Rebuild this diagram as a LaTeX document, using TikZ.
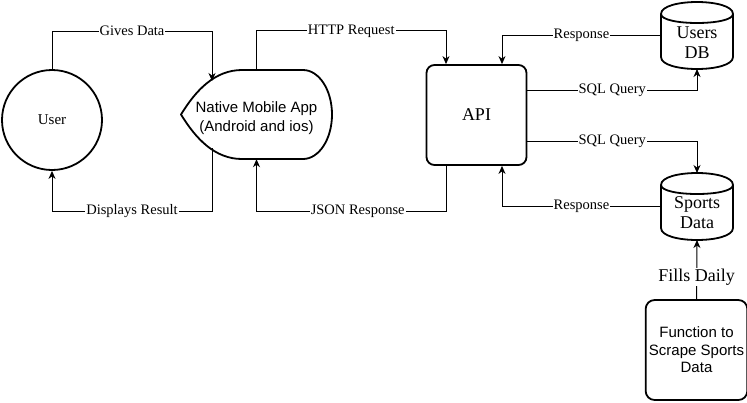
\documentclass[tikz,border=0pt]{standalone}
\usepackage{fontspec}
\setmainfont{Liberation Serif}
\newfontfamily\arialfont{Liberation Sans}
\usetikzlibrary{arrows.meta,calc}

\newcommand\dbshape[2]{%
  \draw[shapeline] ($(#1.north west)+(0,#2)$) .. controls ($(#1.north west)+(0,-#2/3)$) and ($(#1.north east)+(0,-#2/3)$) .. ($(#1.north east)+(0,#2)$)
    -- ($(#1.south east)+(0,-#2)$) .. controls ($(#1.south east)+(0,#2/3)$) and ($(#1.south west)+(0,#2/3)$) .. ($(#1.south west)+(0,-#2)$) -- cycle;
  \draw[shapeline] ($(#1.north west)+(0,#2)$) .. controls ($(#1.north west)+(0,2*#2)$) and ($(#1.north east)+(0,2*#2)$) .. ($(#1.north east)+(0,#2)$);
}

\begin{document}
\begin{tikzpicture}[x=1pt,y=-1pt,
  shapeline/.style={line width=1.8pt, line join=round},
  conn/.style={line width=1pt, -{Stealth[length=8pt,width=7pt,inset=2.5pt]}},
  lbl/.style={fill=white, inner sep=1pt, font=\fontsize{14.5}{16}\selectfont},
  bigserif/.style={font=\fontsize{18}{20}\selectfont, align=center},
  dbnode/.style={draw=none, minimum width=72pt, minimum height=67pt, inner sep=0pt, outer sep=0pt},
]
\fill[white] (0,0) rectangle (747,402);
\useasboundingbox (0,0) rectangle (747,402);

% User
\node[circle, draw, shapeline, minimum size=100pt, inner sep=0pt, font=\fontsize{15}{17}\selectfont] (user) at (52,120) {User};

% Native mobile app (display shape)
\node[draw=none, minimum width=151pt, minimum height=89pt] (app) at (256.5,114.5) {};
\draw[shapeline] (181,114.5) .. controls (196,90) and (215,70) .. (242,70) -- (303,70)
  arc[start angle=-90, end angle=90, x radius=29, y radius=44.5]
  -- (242,159) .. controls (215,159) and (196,139) .. (181,114.5) -- cycle;
\node[align=center, inner sep=0pt, font=\arialfont\fontsize{15}{19}\selectfont] (appt) at (256.5,118) {Native Mobile App\\(Android and ios)};
\coordinate (appin) at (212,81);
\coordinate (appout) at (212,148);

% API
\node[draw, shapeline, rounded corners=8pt, minimum width=100pt, minimum height=100pt, bigserif] (api) at (476.5,115) {API};

% Databases
\node[dbnode] (udb) at (697,35.5) {};
\dbshape{udb}{12}
\node[bigserif, inner sep=0pt] (udbt) at (697,43) {Users\\DB};

\node[dbnode] (sdb) at (697,206.5) {};
\dbshape{sdb}{12}
\node[bigserif, inner sep=0pt] (sdbt) at (697,212.5) {Sports\\Data};

% Function box
\node[draw, shapeline, rounded corners=9pt, minimum width=100pt, minimum height=100pt, align=center, font=\arialfont\fontsize{15}{17.5}\selectfont] (func) at (696.5,350) {Function to\\Scrape Sports\\Data};

% Connectors
\draw[conn] (user.north) -- ++(0,-38) -| node[lbl,pos=.25]{Gives Data} (appin);
\draw[conn] (appout) -- ++(0,63) -| node[lbl,pos=.25]{Displays Result} (user.south);
\draw[conn] (app.north) -- ++(0,-39) -| node[lbl,pos=.25]{HTTP Request} ([xshift=-30.5pt]api.north);
\draw[conn] ([xshift=-30.5pt]api.south) -- ++(0,45.1) -| node[lbl,pos=.233]{JSON Response} (app.south);
\draw[conn] (udb.west) -| node[lbl,pos=.25]{Response} ([xshift=25.5pt]api.north);
\draw[conn] ([yshift=25pt]api.east) -| node[lbl,pos=.25]{SQL Query} (udb.south);
\draw[conn] ([yshift=-26pt]api.east) -| node[lbl,pos=.25]{SQL Query} (sdb.north);
\draw[conn] (sdb.west) -| node[lbl,pos=.25]{Response} ([xshift=25.5pt]api.south);
\draw[conn] (func.north) -- node[lbl,pos=.37,font=\fontsize{18}{20}\selectfont]{Fills Daily} (sdb.south);
\end{tikzpicture}
\end{document}
